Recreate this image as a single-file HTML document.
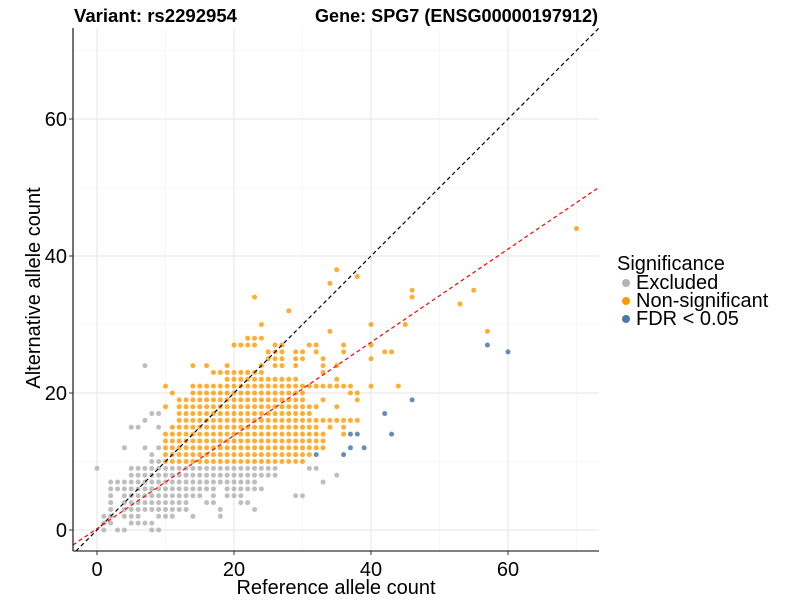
<!DOCTYPE html>
<html><head><meta charset="utf-8"><style>
body{margin:0;background:#fff;}
svg text{font-family:"Liberation Sans",Arial,sans-serif;}
</style></head><body>
<svg id="chart" width="800" height="600" xmlns="http://www.w3.org/2000/svg">
<rect width="800" height="600" fill="#fff"/>
<text x="74" y="22" font-size="18.5" font-weight="bold" textLength="163" lengthAdjust="spacingAndGlyphs">Variant: rs2292954</text>
<text x="315" y="22" font-size="18.5" font-weight="bold" textLength="283" lengthAdjust="spacingAndGlyphs">Gene: SPG7 (ENSG00000197912)</text>
<g id="grid"></g>
<g id="pts"></g>
<g id="lines"></g>
<g id="axes"></g>
<text x="336" y="594" font-size="20" text-anchor="middle">Reference allele count</text>
<text transform="translate(40,288) rotate(-90)" font-size="20" text-anchor="middle">Alternative allele count</text>
<g>
<text x="617" y="270" font-size="20">Significance</text>
<circle cx="626" cy="283" r="4" fill="#b3b3b3"/>
<text x="636" y="289" font-size="20">Excluded</text>
<circle cx="626" cy="301" r="4" fill="#ff9900"/>
<text x="636" y="307" font-size="20">Non-significant</text>
<circle cx="626" cy="319" r="4" fill="#4a7aaa"/>
<text x="636" y="325" font-size="20">FDR &lt; 0.05</text>
</g>
</svg>
<script>
const xTicks=[0,20,40,60];
const yTicks=[0,20,40,60];
const minorTicks=[10,30,50,70];
// grey (excluded) points by row: [y, [x values or [a,b] ranges]]
const greyRows=[
[0,[1,3,4,8,9]],[1,[1,2,5,6,7,8]],[2,[1,2,4,5,6,9,10,11,14,18]],
[3,[2,[4,13],18,23]],[4,[2,[4,13],16,17,21,22]],[5,[2,[4,15],17,19,20,21,29,30]],
[6,[[2,17],[19,24]]],[7,[[2,23],33]],[8,[[5,26],35]],[9,[0,[5,26],31,32]],
[10,[8,9]],[11,[8]],[12,[4,7,9]],[15,[5,6,9]],[16,[7]],[17,[8,9]],[24,[7]]
];
const orangeRows=[
[10,[[10,30]]],[11,[[10,31]]],[12,[[10,33]]],[13,[[10,33]]],[14,[[10,33],36]],
[15,[[11,32],34,36]],[16,[[12,38]]],[17,[[12,31]]],[18,[10,[12,32],35]],
[19,[[12,30],33,38]],[20,[11,[14,30],37,38]],[21,[10,[14,35],36,37,40,44]],
[22,[[19,29],35]],[23,[[17,24],33]],[24,[14,16,19,24,26,27,29,33,35]],
[25,[25,26,27,29,30,33,40]],[26,[25,26,27,29,30,32,36,42,43]],
[27,[20,21,22,23,26,27,31,32,36,40]],[28,[22,23,24]],[29,[34,57]],[30,[24,40,45]],
[32,[28]],[33,[53]],[34,[23,46]],[35,[46,55]],[36,[34]],[37,[38]],[38,[35]],[44,[70]]
];
const blueX=[32,36,37,39,37,38,43,42,46,57,60];
const blueY=[11,11,12,12,14,14,14,17,19,27,26];
const refSlope=1, refIntercept=0;
const fitSlope=0.68, fitIntercept=0.2;

const X0=97,Y0=530,K=6.85,L=73,R=599,T=28,B=551;
const sx=v=>X0+v*K, sy=v=>Y0-v*K;
const ix=p=>(p-X0)/K, iy=p=>(Y0-p)/K;
const NS="http://www.w3.org/2000/svg";
function mk(tag,attrs,parent){const e=document.createElementNS(NS,tag);for(const k in attrs)e.setAttribute(k,attrs[k]);parent.appendChild(e);return e;}
const grid=document.getElementById('grid');
minorTicks.forEach(v=>{
 if(sx(v)<R){const l=mk('line',{x1:sx(v),x2:sx(v),y1:T,y2:B,stroke:'#f2f2f2','stroke-width':0.6},grid);
 }
 if(sy(v)>T){const l=mk('line',{x1:L,x2:R,y1:sy(v),y2:sy(v),stroke:'#f2f2f2','stroke-width':0.6},grid);
 }
});
xTicks.forEach(v=>{const l=mk('line',{x1:sx(v),x2:sx(v),y1:T,y2:B,stroke:'#e6e6e6','stroke-width':1.1},grid);
 });
yTicks.forEach(v=>{const l=mk('line',{x1:L,x2:R,y1:sy(v),y2:sy(v),stroke:'#e6e6e6','stroke-width':1.1},grid);
 });
const pts=document.getElementById('pts');
function expand(list){const o=[];list.forEach(v=>{if(Array.isArray(v)){for(let i=v[0];i<=v[1];i++)o.push(i);}else o.push(v);});return o;}
greyRows.forEach(r=>expand(r[1]).forEach(x=>{
 const c=mk('circle',{cx:sx(x),cy:sy(r[0]),r:2.5,fill:'#b3b3b3','fill-opacity':0.85},pts);
 }));
orangeRows.forEach(r=>expand(r[1]).forEach(x=>{
 const c=mk('circle',{cx:sx(x),cy:sy(r[0]),r:2.5,fill:'#ff9900','fill-opacity':0.8},pts);
 }));
blueX.forEach((x,i)=>{
 const c=mk('circle',{cx:sx(x),cy:sy(blueY[i]),r:2.5,fill:'#4a7aaa','fill-opacity':0.85},pts);
 });
const lines=document.getElementById('lines');
function seg(m,b,col,name){
 let xa=ix(L),xb=ix(R);let ya=m*xa+b,yb=m*xb+b;
 const ytop=iy(T);if(yb>ytop){xb=(ytop-b)/m;yb=ytop;}
 const ybot=iy(B);if(ya<ybot){xa=(ybot-b)/m;ya=ybot;}
 const l=mk('line',{x1:sx(xa),y1:sy(ya),x2:sx(xb),y2:sy(yb),stroke:col,'stroke-width':1.2,'stroke-dasharray':'4,3'},lines);
 }
seg(refSlope,refIntercept,'#000','identity-line');
seg(fitSlope,fitIntercept,'#ff0000','fit-line');
const axes=document.getElementById('axes');
let a=mk('line',{x1:L,x2:L,y1:T,y2:B,stroke:'#000','stroke-width':1.1},axes);

a=mk('line',{x1:L,x2:R,y1:B,y2:B,stroke:'#000','stroke-width':1.1},axes);

xTicks.forEach(v=>{
 const t=mk('line',{x1:sx(v),x2:sx(v),y1:B,y2:B+4,stroke:'#333'},axes);
 
 const s=mk('text',{x:sx(v),y:576,'font-size':20,'text-anchor':'middle'},axes);s.textContent=v;
 });
yTicks.forEach(v=>{
 const t=mk('line',{x1:L-4,x2:L,y1:sy(v),y2:sy(v),stroke:'#333'},axes);
 
 const s=mk('text',{x:67,y:sy(v)+7,'font-size':20,'text-anchor':'end'},axes);s.textContent=v;
 });
</script>
</body></html>
